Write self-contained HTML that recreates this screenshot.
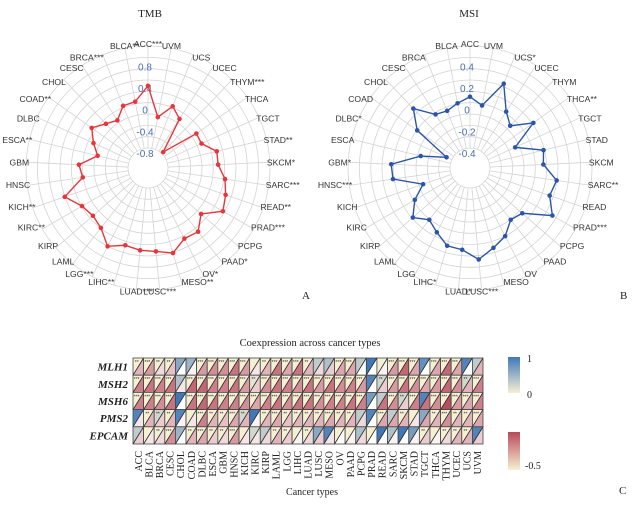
<!DOCTYPE html>
<html><head><meta charset="utf-8">
<style>
body{margin:0;background:#fff;}
svg{display:block;font-family:"Liberation Sans",sans-serif;}
.serif{font-family:"Liberation Serif",serif;}
</style></head>
<body>
<svg id="root" width="636" height="509" viewBox="0 0 636 509" xmlns="http://www.w3.org/2000/svg">
<text class="serif" x="150" y="17" font-size="11" text-anchor="middle" fill="#222">TMB</text>
<text class="serif" x="469" y="17" font-size="11" text-anchor="middle" fill="#222">MSI</text>
<text class="serif" x="302" y="299" font-size="11" fill="#222">A</text>
<text class="serif" x="620" y="299" font-size="11" fill="#222">B</text>
<text class="serif" x="619" y="494" font-size="11" fill="#222">C</text>
<text class="serif" x="310" y="346" font-size="10.5" text-anchor="middle" fill="#222">Coexpression across cancer types</text>
<text class="serif" x="312" y="495" font-size="10" text-anchor="middle" fill="#222">Cancer types</text>
<g id="tmb"></g>
<g id="msi"></g>
<g id="heat"></g>
<defs>
<linearGradient id="gb" x1="0" y1="0" x2="0" y2="1"><stop offset="0" stop-color="#3f78b8"/><stop offset="1" stop-color="#f6f0d3"/></linearGradient>
<linearGradient id="gr" x1="0" y1="0" x2="0" y2="1"><stop offset="0" stop-color="#b84a5a"/><stop offset="1" stop-color="#f6f0d3"/></linearGradient>
</defs>
<rect x="508" y="357" width="12" height="36" fill="url(#gb)"/>
<text class="serif" x="527" y="362" font-size="10" fill="#222">1</text>
<text class="serif" x="527" y="398" font-size="10" fill="#222">0</text>
<rect x="508" y="432" width="12" height="38" fill="url(#gr)"/>
<text class="serif" x="525" y="469" font-size="10" fill="#222">-0.5</text>
</svg>
<script>
const cats = ["ACC","UVM","UCS","UCEC","THYM","THCA","TGCT","STAD","SKCM","SARC","READ","PRAD","PCPG","PAAD","OV","MESO","LUSC","LUAD","LIHC","LGG","LAML","KIRP","KIRC","KICH","HNSC","GBM","ESCA","DLBC","COAD","CHOL","CESC","BRCA","BLCA"];
const tmbStars = ["***","","","","***","","","**","*","***","**","***","","*","*","**","***","***","**","***","","","**","**","","","**","","**","","","***","**"];
const msiStars = ["","","*","","","**","","","","**","","***","","","","","***","*","*","","","","","","***","*","","*","","","","",""];
const tmbValues = [0.44,-0.12,0.15,0,-0.67,0.02,0.01,0.23,0.22,0.36,0.44,0.52,0.22,0.42,0.39,0.56,0.47,0.45,0.41,0.55,0.33,0.27,0.33,0.55,0.14,0.2,-0.12,0.03,0.2,0.05,-0.03,0.16,0.17];
const msiValues = [0.12,0.05,0.30,0.08,0,0.18,-0.08,0.16,0.14,0.27,0.24,0.34,0.1,0.07,0.17,0.23,0.31,0.22,0.21,0.13,0.07,0.16,0.05,-0.08,0.18,0.19,-0.07,-0.3,0.06,0.22,0.05,0.03,0.07];
const tmbTicks = ["0.8","0.4","0","-0.4","-0.8"];
const msiTicks = ["0.4","0.2","0","-0.2","-0.4"];

const NS="http://www.w3.org/2000/svg";
function mk(tag,attrs,parent){const e=document.createElementNS(NS,tag);for(const k in attrs)e.setAttribute(k,attrs[k]);parent.appendChild(e);return e;}

function radar(g,cx,cy,values,stars,ticks,scale,color,name){
  const rOf=v=>58.3+scale*v;
  const n=cats.length;
  for(let k=0;k<10;k++){
    const c=mk('circle',{cx:cx,cy:cy,r:20+k*11.33,fill:'none',stroke:'#d4d4d4','stroke-width':0.8},g);
    
    
  }
  cats.forEach((cat,i)=>{
    const a=i*2*Math.PI/n, s=Math.sin(a), co=-Math.cos(a);
    const l=mk('line',{x1:cx+20*s,y1:cy+20*co,x2:cx+122*s,y2:cy+122*co,stroke:'#d4d4d4','stroke-width':0.8},g);
    
    
    const anchor=s>0.25?'start':(s<-0.25?'end':'middle');
    const lr=anchor==='middle'?124:119;
    const t=mk('text',{x:cx+lr*s,y:cy+lr*co+3,'font-size':8.6,'text-anchor':anchor,fill:'#333'},g);
    t.textContent=cat+stars[i];
    
    
  });
  ticks.forEach(tk=>{
    const v=parseFloat(tk);
    const t=mk('text',{x:cx-3,y:cy-rOf(v)+4,'font-size':10,'text-anchor':'middle',fill:'#4a6fb0'},g);
    t.textContent=tk;
    
    
  });
  const pts=values.map((v,i)=>{const a=i*2*Math.PI/n;return [cx+rOf(v)*Math.sin(a),cy-rOf(v)*Math.cos(a)];});
  const p=mk('polygon',{points:pts.map(p=>p.join(',')).join(' '),fill:'none',stroke:color,'stroke-width':1.4},g);
  
  
  pts.forEach(pt=>{
    const c=mk('circle',{cx:pt[0],cy:pt[1],r:2.3,fill:color},g);
    
    
  });
}
radar(document.getElementById('tmb'),148,168,tmbValues,tmbStars,tmbTicks,54.2,'#e8353b','tmb');
radar(document.getElementById('msi'),470,168,msiValues,msiStars,msiTicks,108.3,'#2b55a8','msi');

const heatCols = ["ACC","BLCA","BRCA","CESC","CHOL","COAD","DLBC","ESCA","GBM","HNSC","KICH","KIRC","KIRP","LAML","LGG","LIHC","LUAD","LUSC","MESO","OV","PAAD","PCPG","PRAD","READ","SARC","SKCM","STAD","TGCT","THCA","THYM","UCEC","UCS","UVM"];
const heatRows = ["MLH1","MSH2","MSH6","PMS2","EPCAM"];
const corrMLH1 = [.3,.4,.15,.25,0,.05,.4,.45,.45,.55,.4,.1,.3,.55,.35,.55,.3,.15,.2,.35,.35,0,0,.05,.4,.6,.35,0,.35,.6,.35,0,.3];
const corrMSH2 = [.5,.55,.5,.55,.1,.6,.6,.5,.5,.55,.4,.2,.45,.55,.5,.45,.55,.4,.55,.45,.5,.4,0,.2,.4,.55,.45,.35,.4,.6,.45,.3,.5];
const corrMSH6 = [.5,.5,.45,.55,0,.55,.6,.55,.5,.5,.45,.35,.5,.55,.45,.55,.55,.45,.5,.5,.55,.5,0,.55,.45,.2,.5,.55,.45,.7,.4,.35,.5];
const corrPMS2 = [.1,.3,.2,.3,.05,.1,.5,.3,.25,.35,.3,.05,.3,.35,.25,.3,.3,.3,.35,.3,.3,.15,0,.35,.35,.3,.1,.35,.3,.45,.3,.3,.35];
const corrEPCAM = [.2,.1,.15,.45,0,.3,.35,.2,.15,.4,.1,.1,.15,.3,.2,.05,.15,.2,.1,0,.05,.15,0,0,.05,0,.05,.2,.05,.15,.3,.3,.2];
const sigMLH1 = [0,0,0,0,.6,.5,0,0,0,0,0,0,0,0,0,0,0,.3,.4,0,0,.3,1,0,0,0,0,.8,0,0,0,.9,.3];
const sigMSH2 = [0,0,0,0,.4,0,0,0,0,0,0,.1,0,0,0,0,0,0,0,0,0,0,.9,.2,0,0,0,0,0,0,0,.2,0];
const sigMSH6 = [0,0,0,0,1,0,0,0,0,0,0,0,0,0,0,0,0,0,0,0,0,0,.7,.3,0,.2,0,.9,0,0,0,0,0];
const sigPMS2 = [.9,0,.2,0,.9,0,0,0,0,0,.2,1,0,0,0,0,0,0,0,0,0,.3,.9,0,.3,0,0,.6,0,0,0,0,0];
const sigEPCAM = [.3,0,0,0,.5,0,0,0,0,0,0,.2,.3,0,0,0,0,.6,.9,0,0,.4,0,1,.4,1,.7,0,0,0,0,0,.9];
const corrRows=[corrMLH1,corrMSH2,corrMSH6,corrPMS2,corrEPCAM];
const sigRows=[sigMLH1,sigMSH2,sigMSH6,sigPMS2,sigEPCAM];

function mix(c1,c2,t){return 'rgb('+c1.map((v,i)=>Math.round(v+(c2[i]-v)*t)).join(',')+')';}
const X0=133,Y0=358,CW=350/33,RH=17.2;
const hg=document.getElementById('heat');
heatRows.forEach((rn,r)=>{
  const t=mk('text',{x:128,y:Y0+r*RH+RH/2+4,'font-size':11,'font-style':'italic','font-weight':'bold','text-anchor':'end',fill:'#222','class':'serif'},hg);
  t.textContent=rn;
  
  
  heatCols.forEach((cn,c)=>{
    const x=X0+c*CW,y=Y0+r*RH;
    const up=mk('polygon',{points:`${x},${y} ${x+CW},${y} ${x},${y+RH}`,fill:mix([246,240,211],[63,120,184],sigRows[r][c])},hg);
    
    
    const lo=mk('polygon',{points:`${x+CW},${y} ${x+CW},${y+RH} ${x},${y+RH}`,fill:mix([255,255,255],[184,74,90],Math.min(1,corrRows[r][c]*1.4))},hg);
    
    
    const st=(corrRows[r][c]>0.12)?(corrRows[r][c]>0.3?'***':'**'):'';
    if(st&&sigRows[r][c]<0.3){
      const s=mk('text',{x:x+CW*0.35,y:y+6,'font-size':5,'text-anchor':'middle',fill:'#333'},hg);
      s.textContent=st;
      
      
    }
    const d=mk('line',{x1:x,y1:y+RH,x2:x+CW,y2:y,stroke:'#222','stroke-width':0.8},hg);
    
    
    const b=mk('rect',{x:x,y:y,width:CW,height:RH,fill:'none',stroke:'#444','stroke-width':0.8},hg);
    
    
  });
});
heatCols.forEach((cn,c)=>{
  const x=X0+c*CW+CW/2+3.5;
  const t=mk('text',{x:x,y:451,'font-size':10,'text-anchor':'end',fill:'#222','class':'serif',transform:`rotate(-90 ${x} 451)`},hg);
  t.textContent=cn;
  
  
});
</script>
</body></html>
